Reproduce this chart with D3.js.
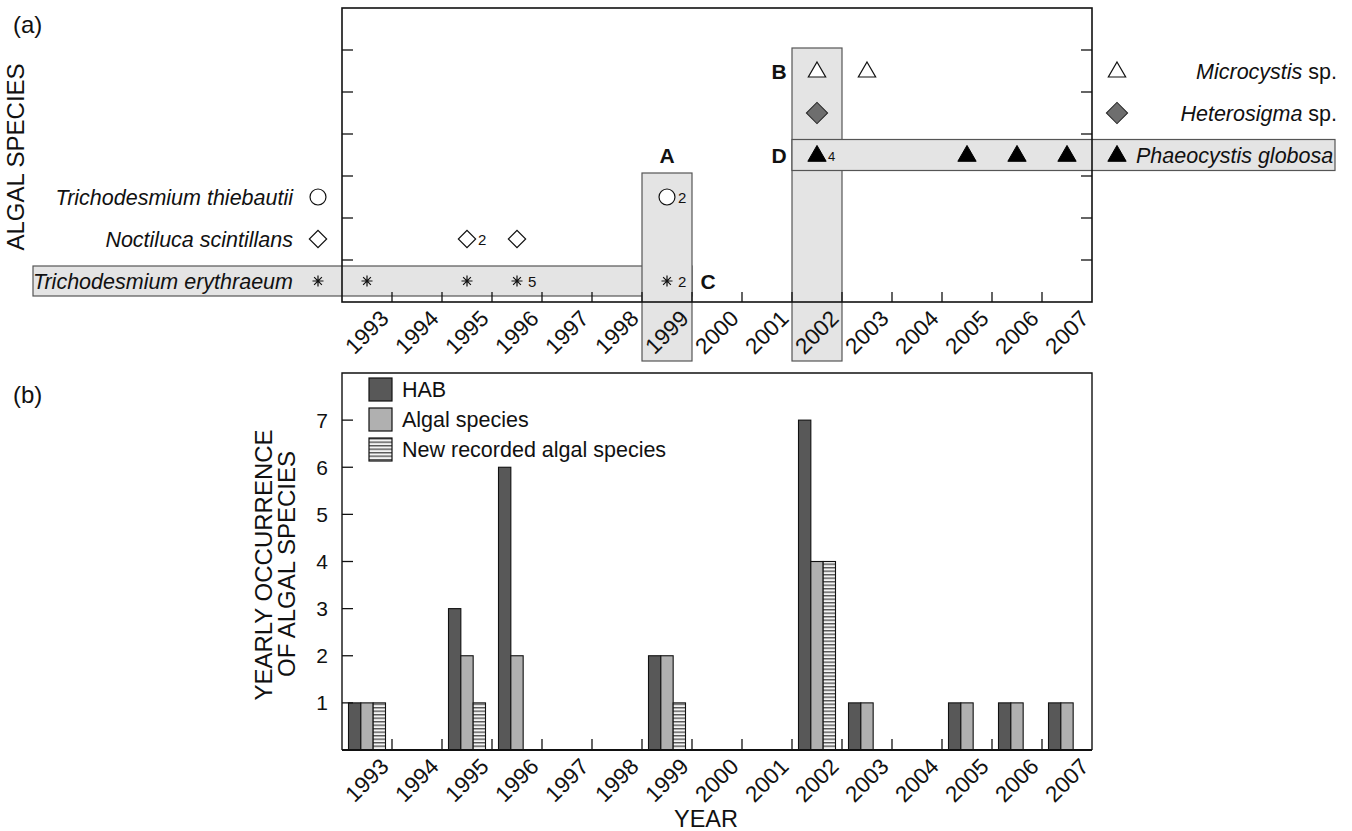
<!DOCTYPE html>
<html>
<head>
<meta charset="utf-8">
<script src="https://cdn.jsdelivr.net/npm/d3@7"></script>
<style>
    body { margin: 0; background: #fff; }
    svg { font-family: "Liberation Sans", Arial, sans-serif; }
</style>
</head>
<body>
<div id="graph-container"></div>
<script>
const WIDTH = 1352, HEIGHT = 831;

// years on both x axes
const years = ['1993', '1994', '1995', '1996', '1997', '1998', '1999', '2000',
    '2001', '2002', '2003', '2004', '2005', '2006', '2007'];

// (a) rows, bottom to top (last row stays empty)
const rows = ['erythraeum', 'noctiluca', 'thiebautii', 'phaeocystis', 'heterosigma', 'microcystis', 'empty'];

// (a) occurrences: year + number of events (shown when > 1)
const erythraeumYears = ['1993', '1995', '1996', '1999'];
const erythraeumCounts = [1, 1, 5, 2];
const noctilucaYears = ['1995', '1996'];
const noctilucaCounts = [2, 1];
const thiebautiiYears = ['1999'];
const thiebautiiCounts = [2];
const phaeocystisYears = ['2002', '2005', '2006', '2007'];
const phaeocystisCounts = [4, 1, 1, 1];
const heterosigmaYears = ['2002'];
const heterosigmaCounts = [1];
const microcystisYears = ['2002', '2003'];
const microcystisCounts = [1, 1];

// (b) yearly counts
const habCounts =   [1, 0, 3, 6, 0, 0, 2, 0, 0, 7, 1, 0, 1, 1, 1];
const algalCounts = [1, 0, 2, 2, 0, 0, 2, 0, 0, 4, 1, 0, 1, 1, 1];
const newCounts =   [1, 0, 1, 0, 0, 0, 1, 0, 0, 4, 0, 0, 0, 0, 0];
const yTicks = [1, 2, 3, 4, 5, 6, 7];
const seriesKeys = ['hab', 'algal', 'new'];
const seriesNames = ['HAB', 'Algal species', 'New recorded algal species'];

const svg = d3.select('#graph-container').append('svg')
    .attr('width', WIDTH)
    .attr('height', HEIGHT);

const defs = svg.append('defs');
const hatch = defs.append('pattern')
    .attr('id', 'hatch')
    .attr('patternUnits', 'userSpaceOnUse')
    .attr('width', 6)
    .attr('height', 3.5);
hatch.append('rect').attr('width', 6).attr('height', 3.5).attr('fill', '#f4f4f4');
hatch.append('rect').attr('y', 0).attr('width', 6).attr('height', 1.4).attr('fill', '#555');

const boxFill = '#e4e4e4', boxStroke = '#555';
const panelA = { x0: 342, x1: 1092, y0: 8, y1: 302 };
const panelB = { x0: 342, x1: 1092, y0: 373, y1: 750 };

const xScale = d3.scaleBand().domain(years).range([panelA.x0, panelA.x1]);
const bw = xScale.bandwidth();
const xc = (y) => xScale(y) + bw / 2;

/////////////////////////////// (a) ///////////////////////////////

const yRow = d3.scaleBand().domain(rows).range([panelA.y1, panelA.y0]);
const rc = (r) => yRow(r) + yRow.bandwidth() / 2;

const gA = svg.append('g');

// highlight boxes
const boxes = [
    { x: 33, y: rc('erythraeum') - 15, w: xScale('1999') + bw - 33, h: 30 },
    { x: xScale('1999'), y: yRow('thiebautii') - 3, w: bw, h: 361 - yRow('thiebautii') + 3 },
    { x: xScale('2002'), y: yRow('microcystis') - 2, w: bw, h: 361 - yRow('microcystis') + 2 },
    { x: xScale('2002'), y: rc('phaeocystis') - 15.5, w: 1335 - xScale('2002'), h: 31 },
];
gA.selectAll('rect.box')
    .data(boxes)
    .join('rect')
    .attr('class', 'box')
    .attr('x', (d) => d.x)
    .attr('y', (d) => d.y)
    .attr('width', (d) => d.w)
    .attr('height', (d) => d.h)
    .attr('fill', boxFill)
    .attr('stroke', boxStroke)
    .attr('stroke-width', 1.2);

// frame + ticks
gA.append('rect')
    .attr('x', panelA.x0).attr('y', panelA.y0)
    .attr('width', panelA.x1 - panelA.x0).attr('height', panelA.y1 - panelA.y0)
    .attr('fill', 'none').attr('stroke', '#111').attr('stroke-width', 1.6);

gA.selectAll('line.xt')
    .data(years.slice(1))
    .join('line')
    .attr('class', 'xt')
    .attr('x1', (d) => xScale(d)).attr('x2', (d) => xScale(d))
    .attr('y1', panelA.y1).attr('y2', panelA.y1 - 10)
    .attr('stroke', '#111').attr('stroke-width', 1.3);

const rowTicks = rows.slice(0, 6);
[[panelA.x0, 11], [panelA.x1, -11]].forEach(([x, len]) => {
    gA.selectAll(null)
        .data(rowTicks)
        .join('line')
        .attr('x1', x).attr('x2', x + len)
        .attr('y1', (d) => yRow(d)).attr('y2', (d) => yRow(d))
        .attr('stroke', '#111').attr('stroke-width', 1.3);
});

gA.selectAll('text.xl')
    .data(years)
    .join('text')
    .attr('class', 'xl')
    .attr('transform', (d) => `translate(${xc(d) + 23}, ${panelA.y1 + 18}) rotate(-45)`)
    .attr('text-anchor', 'end')
    .attr('font-size', 22.5)
    .attr('fill', '#111')
    .text((d) => d);

// marker shapes
const asterisk = (r) => {
    const p = d3.path();
    for (let i = 0; i < 4; i++) {
        const a = i * Math.PI / 4;
        p.moveTo(-r * Math.sin(a), -r * Math.cos(a));
        p.lineTo(r * Math.sin(a), r * Math.cos(a));
    }
    return p.toString();
};
const triangle = d3.symbol(d3.symbolTriangle, 130)();
const bigTriangle = d3.symbol(d3.symbolTriangle, 145)();
const diamond = d3.symbol(d3.symbolSquare, 150)();
const bigDiamond = d3.symbol(d3.symbolSquare, 225)();
const circle = d3.symbol(d3.symbolCircle, 200)();

const markerStyles = {
    erythraeum: { path: asterisk(5.5), fill: 'none', stroke: '#111', sw: 1.2, rot: 0, lab: 15, dy: 0 },
    noctiluca: { path: diamond, fill: '#fff', stroke: '#111', sw: 1.2, rot: 45, lab: 15, dy: 0 },
    thiebautii: { path: circle, fill: '#fff', stroke: '#111', sw: 1.2, rot: 0, lab: 15, dy: 0 },
    phaeocystis: { path: bigTriangle, fill: '#000', stroke: '#000', sw: 1, rot: 0, lab: 13, dy: 1 },
    heterosigma: { path: bigDiamond, fill: '#6e6e6e', stroke: '#222', sw: 1, rot: 45, lab: 15, dy: 0 },
    microcystis: { path: triangle, fill: '#fff', stroke: '#111', sw: 1.2, rot: 0, lab: 15, dy: 1 },
};

const occurrences = [
    ['erythraeum', erythraeumYears, erythraeumCounts],
    ['noctiluca', noctilucaYears, noctilucaCounts],
    ['thiebautii', thiebautiiYears, thiebautiiCounts],
    ['phaeocystis', phaeocystisYears, phaeocystisCounts],
    ['heterosigma', heterosigmaYears, heterosigmaCounts],
    ['microcystis', microcystisYears, microcystisCounts],
].flatMap(([sp, ys, cs]) => ys.map((y, i) => ({ sp, year: y, count: cs[i] })));

gA.selectAll('path.mk')
    .data(occurrences)
    .join('path')
    .attr('class', 'mk')
    .attr('d', (d) => markerStyles[d.sp].path)
    .attr('transform', (d) => `translate(${xc(d.year)}, ${rc(d.sp) + markerStyles[d.sp].dy}) rotate(${markerStyles[d.sp].rot})`)
    .attr('fill', (d) => markerStyles[d.sp].fill)
    .attr('stroke', (d) => markerStyles[d.sp].stroke)
    .attr('stroke-width', (d) => markerStyles[d.sp].sw);

gA.selectAll('text.cnt')
    .data(occurrences.filter((d) => d.count > 1))
    .join('text')
    .attr('class', 'cnt')
    .attr('x', (d) => xc(d.year) + 11)
    .attr('y', (d) => rc(d.sp) + 6)
    .attr('font-size', (d) => markerStyles[d.sp].lab)
    .attr('fill', '#111')
    .text((d) => d.count);

// species names: left side and right side
const leftNames = [
    { sp: 'thiebautii', parts: [['Trichodesmium thiebautii', true]] },
    { sp: 'noctiluca', parts: [['Noctiluca scintillans', true]] },
    { sp: 'erythraeum', parts: [['Trichodesmium erythraeum', true]] },
];
const rightNames = [
    { sp: 'microcystis', parts: [['Microcystis', true], [' sp.', false]], anchor: 'end', x: 1337 },
    { sp: 'heterosigma', parts: [['Heterosigma', true], [' sp.', false]], anchor: 'end', x: 1337 },
    { sp: 'phaeocystis', parts: [['Phaeocystis globosa', true]], anchor: 'start', x: 1136 },
];

const nameText = (sel) => {
    sel.selectAll('tspan')
        .data((d) => d.parts)
        .join('tspan')
        .attr('font-style', (p) => (p[1] ? 'italic' : 'normal'))
        .text((p) => p[0]);
};

gA.selectAll('text.ln')
    .data(leftNames)
    .join('text')
    .attr('class', 'ln')
    .attr('x', 293)
    .attr('y', (d) => rc(d.sp) + 7.5)
    .attr('text-anchor', 'end')
    .attr('font-size', 21.5)
    .attr('fill', '#111')
    .call(nameText);

gA.selectAll('path.lm')
    .data(leftNames)
    .join('path')
    .attr('class', 'lm')
    .attr('d', (d) => markerStyles[d.sp].path)
    .attr('transform', (d) => `translate(318, ${rc(d.sp)}) rotate(${markerStyles[d.sp].rot})`)
    .attr('fill', (d) => markerStyles[d.sp].fill)
    .attr('stroke', (d) => markerStyles[d.sp].stroke)
    .attr('stroke-width', (d) => markerStyles[d.sp].sw);

gA.selectAll('text.rn')
    .data(rightNames)
    .join('text')
    .attr('class', 'rn')
    .attr('x', (d) => d.x)
    .attr('y', (d) => rc(d.sp) + 7.5)
    .attr('text-anchor', (d) => d.anchor)
    .attr('font-size', 21.5)
    .attr('fill', '#111')
    .call(nameText);

gA.selectAll('path.rm')
    .data(rightNames)
    .join('path')
    .attr('class', 'rm')
    .attr('d', (d) => markerStyles[d.sp].path)
    .attr('transform', (d) => `translate(1117, ${rc(d.sp) + markerStyles[d.sp].dy}) rotate(${markerStyles[d.sp].rot})`)
    .attr('fill', (d) => markerStyles[d.sp].fill)
    .attr('stroke', (d) => markerStyles[d.sp].stroke)
    .attr('stroke-width', (d) => markerStyles[d.sp].sw);

// box letters
const letters = [
    { t: 'A', x: xc('1999'), y: rc('phaeocystis') },
    { t: 'B', x: xScale('2002') - 13, y: rc('microcystis') },
    { t: 'D', x: xScale('2002') - 13, y: rc('phaeocystis') },
    { t: 'C', x: xScale('2000') + 16, y: rc('erythraeum') },
];
gA.selectAll('text.let')
    .data(letters)
    .join('text')
    .attr('class', 'let')
    .attr('x', (d) => d.x)
    .attr('y', (d) => d.y + 7.5)
    .attr('text-anchor', 'middle')
    .attr('font-size', 21)
    .attr('font-weight', 'bold')
    .attr('fill', '#111')
    .text((d) => d.t);

gA.append('text')
    .attr('transform', `translate(24, ${(panelA.y0 + panelA.y1) / 2 + 2}) rotate(-90)`)
    .attr('text-anchor', 'middle')
    .attr('font-size', 24)
    .attr('fill', '#111')
    .text('ALGAL SPECIES');

svg.append('text').attr('x', 13).attr('y', 33).attr('font-size', 24).attr('fill', '#111').text('(a)');
svg.append('text').attr('x', 13).attr('y', 403).attr('font-size', 24).attr('fill', '#111').text('(b)');

/////////////////////////////// (b) ///////////////////////////////

const gB = svg.append('g');
const yScale = d3.scaleLinear().domain([0, 8]).range([panelB.y1, panelB.y0]);
const x1 = d3.scaleBand().domain(seriesKeys).range([6.5, bw - 6.5]);
const fills = { hab: '#585858', algal: '#b0b0b0', new: 'url(#hatch)' };

const barData = years.flatMap((y, i) => [
    { year: y, key: 'hab', v: habCounts[i] },
    { year: y, key: 'algal', v: algalCounts[i] },
    { year: y, key: 'new', v: newCounts[i] },
]).filter((d) => d.v > 0);

gB.selectAll('rect.bar')
    .data(barData)
    .join('rect')
    .attr('class', 'bar')
    .attr('x', (d) => xScale(d.year) + x1(d.key))
    .attr('y', (d) => yScale(d.v))
    .attr('width', x1.bandwidth())
    .attr('height', (d) => yScale(0) - yScale(d.v))
    .attr('fill', (d) => fills[d.key])
    .attr('stroke', '#111')
    .attr('stroke-width', 1.1);

gB.append('path')
    .attr('d', `M${panelB.x0},${panelB.y1} V${panelB.y0} H${panelB.x1} V${panelB.y1}`)
    .attr('fill', 'none').attr('stroke', '#111').attr('stroke-width', 1.4);
gB.append('line')
    .attr('x1', panelB.x0).attr('x2', panelB.x1)
    .attr('y1', panelB.y1).attr('y2', panelB.y1)
    .attr('stroke', '#111').attr('stroke-width', 2);

gB.selectAll('line.xt')
    .data(years.slice(1))
    .join('line')
    .attr('class', 'xt')
    .attr('x1', (d) => xScale(d)).attr('x2', (d) => xScale(d))
    .attr('y1', panelB.y1).attr('y2', panelB.y1 - 11)
    .attr('stroke', '#111').attr('stroke-width', 1.3);

gB.selectAll('line.yt')
    .data(yTicks)
    .join('line')
    .attr('class', 'yt')
    .attr('x1', panelB.x0).attr('x2', panelB.x0 + 11)
    .attr('y1', (d) => yScale(d)).attr('y2', (d) => yScale(d))
    .attr('stroke', '#111').attr('stroke-width', 1.3);

gB.selectAll('text.yl')
    .data(yTicks)
    .join('text')
    .attr('class', 'yl')
    .attr('x', 328)
    .attr('y', (d) => yScale(d) + 7.5)
    .attr('text-anchor', 'end')
    .attr('font-size', 21)
    .attr('fill', '#111')
    .text((d) => d);

gB.selectAll('text.xl')
    .data(years)
    .join('text')
    .attr('class', 'xl')
    .attr('transform', (d) => `translate(${xc(d) + 23}, ${panelB.y1 + 18}) rotate(-45)`)
    .attr('text-anchor', 'end')
    .attr('font-size', 22.5)
    .attr('fill', '#111')
    .text((d) => d);

gB.append('text')
    .attr('x', 706).attr('y', 827)
    .attr('text-anchor', 'middle')
    .attr('font-size', 23.5)
    .attr('fill', '#111')
    .text('YEAR');

gB.append('text')
    .attr('transform', `translate(272, 565) rotate(-90)`)
    .attr('text-anchor', 'middle')
    .attr('font-size', 24)
    .attr('fill', '#111')
    .text('YEARLY OCCURRENCE');
gB.append('text')
    .attr('transform', `translate(295, 564) rotate(-90)`)
    .attr('text-anchor', 'middle')
    .attr('font-size', 24)
    .attr('fill', '#111')
    .text('OF ALGAL SPECIES');

// legend
const legend = gB.selectAll('g.leg')
    .data(seriesKeys)
    .join('g')
    .attr('class', 'leg')
    .attr('transform', (d, i) => `translate(369, ${378 + i * 30})`);
legend.append('rect')
    .attr('width', 23).attr('height', 23)
    .attr('fill', (d) => fills[d])
    .attr('stroke', '#111').attr('stroke-width', 1.2);
legend.append('text')
    .attr('x', 33).attr('y', 19)
    .attr('font-size', 21.5)
    .attr('fill', '#111')
    .text((d, i) => seriesNames[i]);
</script>
</body>
</html>
